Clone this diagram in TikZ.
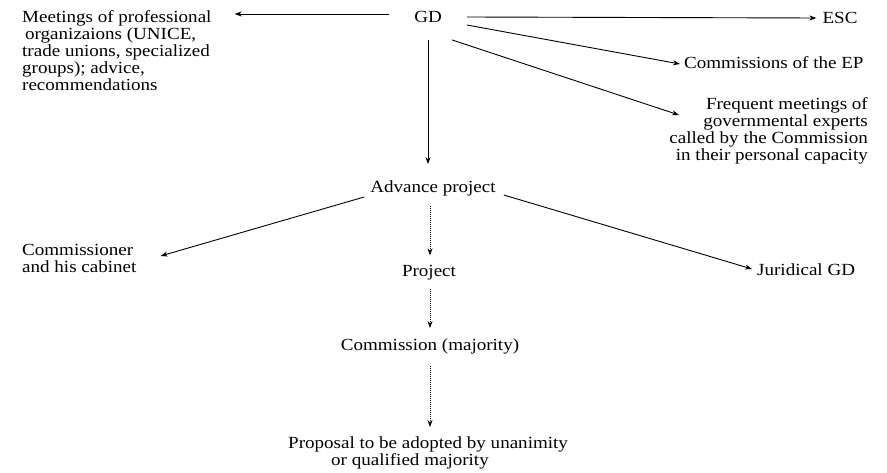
\documentclass[tikz,border=0pt]{standalone}
\usepackage{fontspec}
\setmainfont[FakeStretch=1.12]{Liberation Serif}
\usetikzlibrary{arrows.meta,calc}
\begin{document}
\begin{tikzpicture}[x=1pt,y=-1pt,
  lbl/.style={inner sep=0pt,font=\fontsize{17}{17}\selectfont},
  arr/.style={line width=0.9pt,-{Stealth[length=7pt,width=5pt]}},
  darr/.style={line width=0.7pt,dash pattern=on 1.5pt off 0.5pt,-{Stealth[length=7pt,width=5pt]}}]
\useasboundingbox[fill=white] (0,0) rectangle (887,473);
\node[lbl] (gd) at (428,17) {GD};
\node[lbl,align=left,anchor=north west] (meet) at (22,10) {Meetings of professional\\\hspace*{3pt}organizaions (UNICE,\\trade unions, specialized\\groups); advice,\\recommendations};
\node[lbl] (esc) at (840,18) {ESC};
\node[lbl,anchor=west] (ep) at (684,63) {Commissions of the EP};
\node[lbl,align=right,anchor=north east] (freq) at (868,97) {Frequent meetings of\\governmental experts\\called by the Commission\\in their personal capacity};
\node[lbl] (adv) at (433,188) {Advance project};
\node[lbl,align=left,anchor=north west] (comm) at (22,244) {Commissioner\\and his cabinet};
\node[lbl] (proj) at (429,273) {Project};
\node[lbl,anchor=west] (jur) at (757,270) {Juridical GD};
\node[lbl] (cmaj) at (430,346) {Commission (majority)};
\node[lbl,align=left,anchor=north west] (prop) at (288,437) {Proposal to be adopted by unanimity\\\hspace*{43pt}or qualified majority};
% connectors
\draw[arr] ($(gd.west)+(-25,-3)$) -- ($(meet.north east)+(23,4)$);
\draw[arr] ($(gd.east)+(25,0)$) -- ($(esc.west)+(-6,0)$);
\draw[arr] ($(gd.east)+(25,8)$) -- ($(ep.west)+(-4,1)$);
\draw[arr] ($(gd.south east)+(10,17)$) -- ($(freq.north east)+(-189,18)$);
\draw[arr] ($(gd.south)+(0,17)$) -- ($(adv.north)+(-5,-16)$);
\draw[arr] ($(adv.west)+(-6,9)$) -- ($(comm.north east)+(24,12)$);
\draw[darr] ($(adv.south)+(-3,10)$) -- ($(proj.north)+(1,-10)$);
\draw[arr] ($(adv.east)+(8,7)$) -- ($(jur.west)+(-5,-1)$);
\draw[darr] ($(proj.south)+(1,8)$) -- ($(cmaj.north)+(0,-10)$);
\draw[darr] ($(cmaj.south)+(0,12)$) -- ($(cmaj.south |- prop.north)+(0,-10)$);
\end{tikzpicture}
\end{document}
